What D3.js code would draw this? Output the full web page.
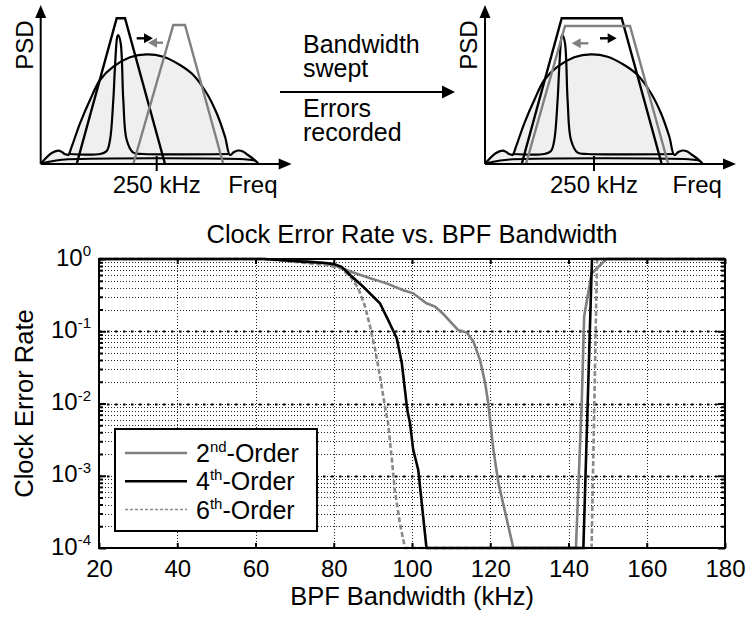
<!DOCTYPE html>
<html>
<head>
<meta charset="utf-8">
<script src="https://cdn.jsdelivr.net/npm/d3@7"></script>
<style>
  body { margin: 0; background: #fff; }
  text { font-family: "Liberation Sans", Arial, Helvetica, sans-serif; fill: #000; }
</style>
</head>
<body>
<script>
// ---- measured error rates (bandwidth kHz, clock error rate) ----
const order2 = [[20, 1], [62, 1], [70, 0.97], [76, 0.9], [79.9, 0.83], [84.2, 0.67], [89.3, 0.54],
  [93.5, 0.46], [97.8, 0.37], [100.3, 0.335], [103.7, 0.244], [105.9, 0.219], [108, 0.173],
  [111.8, 0.104], [114, 0.096], [115.7, 0.072], [117.4, 0.04], [118.7, 0.019], [119.5, 0.01],
  [120.8, 0.0023], [122.1, 0.00079], [125.9, 0.0001], [141.9, 0.0001], [143.4, 0.011],
  [144, 0.16], [145.9, 0.63], [149.7, 1], [180, 1]];
const order4 = [[20, 1], [62, 1], [66, 0.97], [72, 0.92], [78, 0.88], [80, 0.85], [82, 0.78],
  [84.2, 0.6], [87.6, 0.41], [91.8, 0.244], [93.9, 0.143], [96.1, 0.08], [97.4, 0.036],
  [98.8, 0.0081], [99.5, 0.0053], [100.3, 0.0023], [101.6, 0.0012], [103.7, 0.0001],
  [143.8, 0.0001], [146, 1], [180, 1]];
const order6 = [[20, 1], [62, 1], [66, 0.96], [72, 0.89], [78, 0.83], [82, 0.74], [84.6, 0.54],
  [86.3, 0.39], [88, 0.22], [89.3, 0.116], [90.6, 0.055], [91.8, 0.024], [93.1, 0.009],
  [93.9, 0.0053], [94.8, 0.0018], [95.6, 0.00064], [96.9, 0.00022], [98.2, 0.0001],
  [145.9, 0.0001], [147.3, 1], [180, 1]];

const seriesNames = ['2', '4', '6'];
const seriesSup = ['nd', 'th', 'th'];
const xTicks = [20, 40, 60, 80, 100, 120, 140, 160, 180];
const decades = [1e-4, 1e-3, 1e-2, 1e-1, 1];
const decadeExp = ['-4', '-3', '-2', '-1', '0'];

// ---- schematic spectra (freq units, height units) ----
const psdOutline = [[0.6, 0.7], [4.3, 5], [10.6, 10.7], [17.3, 13.3], [21.3, 12], [24, 10], [26, 9.5],
  [27.6, 9], [31, 17.3], [39.3, 40.7], [49.3, 64], [59.3, 84], [72.6, 97.3], [89.3, 106.7],
  [106, 109.7], [122.6, 107.3], [139.3, 99], [152.6, 89], [166, 70.7], [176, 50.7], [184.3, 27.3],
  [189.3, 9], [193.3, 12], [197.3, 13.5], [202.3, 12.5], [207.3, 9], [214, 4], [217.3, 0.7]];
const clockTone = [[27.6, 10], [59.3, 10], [66, 13], [69.3, 24], [72.6, 64], [74.3, 97.3], [76.6, 127.3],
  [77.6, 129], [80, 120.7], [82.6, 64], [86, 24], [92.6, 11.3], [102.6, 10], [189.3, 10]];
const noiseFloor = [[0.6, 0.7], [14, 3.3], [27.3, 4.7], [204, 4.7], [214, 3.3], [217.3, 0.7]];

const filtersBefore = [
  { color: '#000', pts: [[36, 0], [76, 145.7], [84.3, 145.7], [124.3, 0]] },
  { color: '#808080', pts: [[92.6, 0], [132.6, 139], [144.3, 139], [182.6, 0]] }
];
const filtersAfter = [
  { color: '#000', pts: [[36.7, 0], [76.7, 145.7], [136.7, 145.7], [176.7, 0]] },
  { color: '#808080', pts: [[41, 0], [80, 138], [145, 138], [183.3, 0]] }
];
const arrowsBefore = [
  { color: '#000', from: [96, 125.7], to: [112.3, 125.7] },
  { color: '#808080', from: [122.3, 121.3], to: [107.3, 121.3] }
];
const arrowsAfter = [
  { color: '#808080', from: [103.3, 120.7], to: [86.7, 120.7] },
  { color: '#000', from: [115, 125.7], to: [131.7, 125.7] }
];

const svg = d3.select('body').append('svg')
  .attr('width', 750)
  .attr('height', 617);

// ---------------- top schematic panels ----------------
const drawPanel = (ox, filters, arrows, tickAt) => {
  const px = d3.scaleLinear().domain([0, 250]).range([ox, ox + 250]);
  const py = d3.scaleLinear().domain([0, 150]).range([164, 14]);
  const g = svg.append('g');
  const smooth = d3.line().x((d) => px(d[0])).y((d) => py(d[1])).curve(d3.curveCatmullRom);
  const straight = d3.line().x((d) => px(d[0])).y((d) => py(d[1]));

  g.append('path').attr('d', smooth(psdOutline))
    .attr('fill', '#efefef').attr('stroke', '#000').attr('stroke-width', 2.2);
  g.append('path').attr('d', smooth(noiseFloor))
    .attr('fill', 'none').attr('stroke', '#000').attr('stroke-width', 2);
  g.append('path').attr('d', smooth(clockTone))
    .attr('fill', 'none').attr('stroke', '#000').attr('stroke-width', 2.2);

  filters.forEach((f) => {
    g.append('path').attr('d', straight(f.pts))
      .attr('fill', 'none').attr('stroke', f.color).attr('stroke-width', 2.4)
      .attr('stroke-linejoin', 'miter');
  });

  arrows.forEach((a) => {
    const dir = Math.sign(a.to[0] - a.from[0]);
    const tx = px(a.to[0]), ty = py(a.to[1]);
    g.append('line')
      .attr('x1', px(a.from[0])).attr('y1', py(a.from[1]))
      .attr('x2', tx - dir * 6).attr('y2', ty)
      .attr('stroke', a.color).attr('stroke-width', 2.4);
    g.append('path')
      .attr('d', `M${tx},${ty}L${tx - dir * 9},${ty - 5}L${tx - dir * 9},${ty + 5}Z`)
      .attr('fill', a.color);
  });

  // axes with arrow heads
  g.append('line').attr('x1', px(0)).attr('x2', px(0)).attr('y1', py(0)).attr('y2', py(150))
    .attr('stroke', '#000').attr('stroke-width', 2);
  g.append('path')
    .attr('d', `M${px(0)},${py(159)}L${px(0) - 5.5},${py(146)}L${px(0) + 5.5},${py(146)}Z`);
  g.append('line').attr('x1', px(0)).attr('x2', px(240)).attr('y1', py(0)).attr('y2', py(0))
    .attr('stroke', '#000').attr('stroke-width', 2);
  g.append('path')
    .attr('d', `M${px(251)},${py(0)}L${px(238)},${py(0) - 5.5}L${px(238)},${py(0) + 5.5}Z`);

  g.append('line').attr('x1', px(tickAt)).attr('x2', px(tickAt)).attr('y1', 156).attr('y2', 171)
    .attr('stroke', '#000').attr('stroke-width', 2);
  g.append('text').attr('x', px(tickAt)).attr('y', 193).attr('text-anchor', 'middle')
    .style('font-size', '24px').text('250 kHz');
  g.append('text').attr('x', px(187.5)).attr('y', 193)
    .style('font-size', '24px').text('Freq');
  g.append('text').attr('transform', `translate(${ox - 8},45) rotate(-90)`)
    .attr('text-anchor', 'middle').style('font-size', '24px').text('PSD');
};

drawPanel(40.7, filtersBefore, arrowsBefore, 116);
drawPanel(485, filtersAfter, arrowsAfter, 109);

// middle arrow and captions
const mid = svg.append('g');
mid.append('line').attr('x1', 280).attr('x2', 445).attr('y1', 92).attr('y2', 92)
  .attr('stroke', '#000').attr('stroke-width', 2);
mid.append('path').attr('d', 'M455,92L442,85.5L442,98.5Z');
[['Bandwidth', 53], ['swept', 77], ['Errors', 117], ['recorded', 141]].forEach((t) => {
  mid.append('text').attr('x', 303).attr('y', t[1]).style('font-size', '25px').text(t[0]);
});

// ---------------- error rate chart ----------------
const x = d3.scaleLinear().domain([20, 180]).range([99, 725]);
const y = d3.scaleLog().domain([1e-4, 1]).range([548, 259]);
const [x0, x1] = x.range();
const [y0, y1] = y.range();

const minorY = [];
decades.slice(0, 4).forEach((d) => {
  for (let k = 2; k <= 9; k++) minorY.push(k * d);
});

const grid = svg.append('g');
grid.selectAll('.minor').data(minorY.concat(decades.slice(1, 4))).join('line')
  .attr('x1', x0).attr('x2', x1)
  .attr('y1', (d) => Math.round(y(d)) + 0.5).attr('y2', (d) => Math.round(y(d)) + 0.5)
  .attr('stroke', '#222').attr('stroke-width', 1).attr('stroke-dasharray', '1,2');
grid.selectAll('.major').data(decades.slice(1, 4)).join('line')
  .attr('x1', x0).attr('x2', x1)
  .attr('y1', (d) => Math.round(y(d)) + 0.5).attr('y2', (d) => Math.round(y(d)) + 0.5)
  .attr('stroke', '#000').attr('stroke-width', 2.2).attr('stroke-dasharray', '2.5,5.5');
grid.selectAll('.vx').data(xTicks.slice(1, -1)).join('line')
  .attr('x1', (d) => Math.round(x(d)) + 0.5).attr('x2', (d) => Math.round(x(d)) + 0.5)
  .attr('y1', y1).attr('y2', y0)
  .attr('stroke', '#222').attr('stroke-width', 1).attr('stroke-dasharray', '1,2');

svg.append('clipPath').attr('id', 'plotclip')
  .append('rect').attr('x', x0).attr('y', y1 - 2).attr('width', x1 - x0).attr('height', y0 - y1 + 4);

const line = d3.line().x((d) => x(d[0])).y((d) => y(d[1]));
const series = [
  { data: order2, color: '#7f7f7f', dash: null, legendDash: null, w: 2.6 },
  { data: order4, color: '#000', dash: null, legendDash: null, w: 2.6 },
  { data: order6, color: '#8a8a8a', dash: '5,2.5', legendDash: '3,2', w: 2.6 }
];

const curves = svg.append('g').attr('clip-path', 'url(#plotclip)');
[series[0], series[2], series[1]].forEach((s) => {
  curves.append('path').attr('d', line(s.data))
    .attr('fill', 'none').attr('stroke', s.color).attr('stroke-width', s.w)
    .attr('stroke-dasharray', s.dash);
});

// axes
const styleAxis = (g) => {
  g.select('.domain').remove();
  g.selectAll('.tick line').attr('stroke', '#000').attr('stroke-width', 2);
};

svg.append('g').attr('transform', `translate(0,${y0})`)
  .call(d3.axisBottom(x).tickValues(xTicks).tickSizeInner(-5).tickSizeOuter(0))
  .call(styleAxis)
  .call((g) => g.selectAll('text').attr('y', 29).attr('dy', null)
    .style('font-size', '24px').style('font-family', null));
svg.append('g').attr('transform', `translate(0,${y1})`)
  .call(d3.axisTop(x).tickValues(xTicks).tickSizeInner(-5).tickSizeOuter(0).tickFormat(''))
  .call(styleAxis);

svg.append('g').attr('transform', `translate(${x0},0)`)
  .call(d3.axisLeft(y).tickValues(minorY).tickSizeInner(-4).tickSizeOuter(0).tickFormat(''))
  .call(styleAxis);
svg.append('g').attr('transform', `translate(${x1},0)`)
  .call(d3.axisRight(y).tickValues(minorY).tickSizeInner(-4).tickSizeOuter(0).tickFormat(''))
  .call(styleAxis);
svg.append('g').attr('transform', `translate(${x1},0)`)
  .call(d3.axisRight(y).tickValues(decades).tickSizeInner(-7).tickSizeOuter(0).tickFormat(''))
  .call(styleAxis);

const yAxis = svg.append('g').attr('transform', `translate(${x0},0)`)
  .call(d3.axisLeft(y).tickValues(decades).tickSizeInner(-7).tickSizeOuter(0).tickFormat(''))
  .call(styleAxis);
yAxis.selectAll('.tick').each(function (d) {
  const i = decades.indexOf(d);
  const t = d3.select(this).select('text')
    .attr('x', -8).attr('y', 6).attr('dy', null)
    .attr('text-anchor', 'end').style('font-family', null);
  t.append('tspan').style('font-size', '24px').text('10');
  t.append('tspan').attr('dy', -9.5).style('font-size', '15px').text(decadeExp[i]);
});

svg.append('rect').attr('x', x0).attr('y', y1).attr('width', x1 - x0).attr('height', y0 - y1)
  .attr('fill', 'none').attr('stroke', '#000').attr('stroke-width', 2);

// labels
svg.append('text').attr('x', (x0 + x1) / 2).attr('y', 243).attr('text-anchor', 'middle')
  .style('font-size', '25.5px').text('Clock Error Rate vs. BPF Bandwidth');
svg.append('text').attr('x', (x0 + x1) / 2).attr('y', 605).attr('text-anchor', 'middle')
  .style('font-size', '25.5px').text('BPF Bandwidth (kHz)');
svg.append('text').attr('transform', `translate(33,${(y0 + y1) / 2}) rotate(-90)`)
  .attr('text-anchor', 'middle').style('font-size', '25.5px').text('Clock Error Rate');

// legend
const legend = svg.append('g');
legend.append('rect').attr('x', 115).attr('y', 429).attr('width', 202).attr('height', 102)
  .attr('fill', '#fff').attr('stroke', '#000').attr('stroke-width', 2);
series.forEach((s, i) => {
  const ry = 453 + i * 28.3;
  legend.append('line').attr('x1', 125).attr('x2', 187).attr('y1', ry).attr('y2', ry)
    .attr('stroke', s.color).attr('stroke-width', s.legendDash ? 1.5 : 2.4)
    .attr('stroke-dasharray', s.legendDash);
  const t = legend.append('text').attr('x', 196).attr('y', ry + 9);
  t.append('tspan').style('font-size', '25px').text(seriesNames[i]);
  t.append('tspan').attr('dy', -10).style('font-size', '15px').text(seriesSup[i]);
  t.append('tspan').attr('dy', 10).style('font-size', '25px').text('-Order');
});
</script>
</body>
</html>
